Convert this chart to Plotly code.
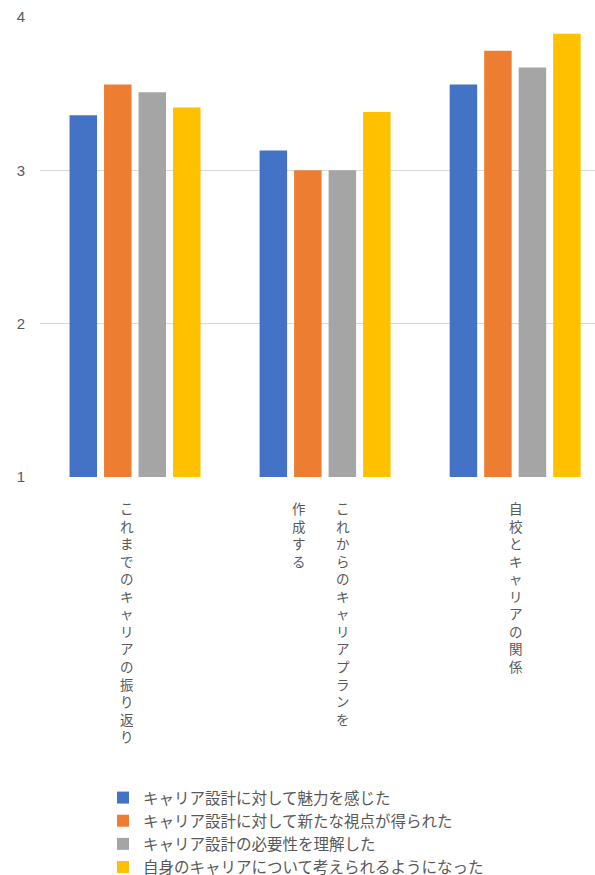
import plotly.graph_objects as go

# Survey categories (x axis) and their vertical label columns, read right to left
categories = [
    "これまでのキャリアの振り返り",
    "これからのキャリアプランを作成する",
    "自校とキャリアの関係",
]
category_columns = [
    ["これまでのキャリアの振り返り"],
    ["これからのキャリアプランを", "作成する"],
    ["自校とキャリアの関係"],
]

series_names = [
    "キャリア設計に対して魅力を感じた",
    "キャリア設計に対して新たな視点が得られた",
    "キャリア設計の必要性を理解した",
    "自身のキャリアについて考えられるようになった",
]
series_colors = ["#4472C4", "#ED7D31", "#A5A5A5", "#FFC000"]

values_attractive = [3.36, 3.13, 3.56]
values_new_view = [3.56, 3.00, 3.78]
values_necessity = [3.51, 3.00, 3.67]
values_own_career = [3.41, 3.38, 3.89]
series_values = [values_attractive, values_new_view, values_necessity, values_own_career]

y_ticks = [1, 2, 3, 4]

W, H = 595, 875
FONT = "Noto Sans CJK JP"
TEXT_GREY = "#595959"

fig = go.Figure()
for name, color, vals in zip(series_names, series_colors, series_values):
    fig.add_trace(go.Bar(
        x=categories, y=vals, name=name,
        marker=dict(color=color, line=dict(width=0)),
    ))

# Vertical (tategaki) category labels: one character per line, columns placed right to left
column_shifts = [[-8], [18, -26], [1]]
annotations = []
for cat, cols, shifts in zip(categories, category_columns, column_shifts):
    for text, dx in zip(cols, shifts):
        annotations.append(dict(
            x=cat, xref="x", y=0, yref="paper",
            xanchor="center", yanchor="top",
            xshift=dx, yshift=-19,
            text="<br>".join(list(text)),
            showarrow=False, align="center",
            font=dict(family=FONT, size=13.5, color=TEXT_GREY),
        ))

fig.update_layout(
    width=W, height=H,
    margin=dict(l=40, r=0, t=17, b=398, autoexpand=False),
    paper_bgcolor="white", plot_bgcolor="white",
    barmode="group", bargap=0.274, bargroupgap=0.203,
    font=dict(family=FONT, color=TEXT_GREY),
    xaxis=dict(
        type="category", range=[-0.5, 2.42],
        showticklabels=False, showgrid=False, zeroline=False, showline=False,
    ),
    yaxis=dict(
        range=[1, 4], tickvals=y_ticks, ticktext=[str(t) for t in y_ticks],
        showgrid=True, gridcolor="#D9D9D9", gridwidth=1,
        zeroline=False, showline=False,
        ticks="", ticklabelstandoff=14,
        tickfont=dict(family="Liberation Sans", size=15, color=TEXT_GREY),
    ),
    legend=dict(
        xref="container", yref="container",
        x=103 / W, y=1 - 781 / H, xanchor="left", yanchor="top",
        orientation="v", traceorder="normal",
        font=dict(family=FONT, size=15.5, color=TEXT_GREY),
        bgcolor="rgba(0,0,0,0)",
    ),
    annotations=annotations,
    showlegend=True,
)

fig.write_html("out.html")
